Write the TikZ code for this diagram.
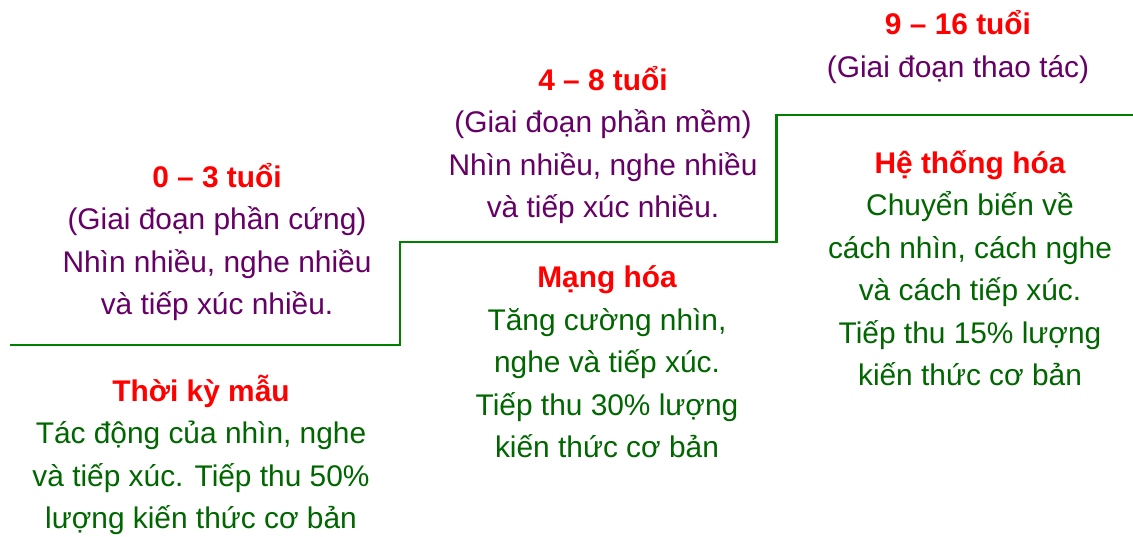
\documentclass[tikz,border=0pt]{standalone}
\usepackage{fontspec}
\setmainfont{Liberation Sans}
\definecolor{agered}{HTML}{FF0000}
\definecolor{stagepurple}{HTML}{660066}
\definecolor{descgreen}{HTML}{006600}
\definecolor{stairgreen}{HTML}{008000}
\begin{document}
\begin{tikzpicture}[x=0.02cm, y=-0.02cm,
	stage/.style = {align=center, inner sep=0pt, text=stagepurple, font=\fontsize{17}{24.2}\selectfont},
	desc/.style = {align=center, inner sep=0pt, text=descgreen, font=\fontsize{17}{24.2}\selectfont}]
	\useasboundingbox (0,0) rectangle (1133,537);
	% stair line
	\coordinate (s0) at (10,345);
	\coordinate (s1) at (400,345);
	\coordinate (s2) at (400,242);
	\coordinate (s3) at (776,242);
	\coordinate (s4) at (776,115);
	\coordinate (s5) at (1133,115);
	\draw[stairgreen, line width=1.7pt] (s0) -- (s1) -- (s2) -- (s3) -- (s4) -- (s5);
	% 0 - 3
	\node[stage] (1) at (217,242) {\textcolor{agered}{\bfseries 0 – 3 tuổi}\\(Giai đoạn phần cứng)\\Nhìn nhiều, nghe nhiều\\và tiếp xúc nhiều.};
	\node[desc] (1b) at (201,455) {\textcolor{agered}{\bfseries Thời kỳ mẫu}\\Tác động của nhìn, nghe\\và tiếp xúc. Tiếp thu 50\%\\lượng kiến thức cơ bản};
	% 4 - 8
	\node[stage] (2) at (603,145) {\textcolor{agered}{\bfseries 4 – 8 tuổi}\\(Giai đoạn phần mềm)\\Nhìn nhiều, nghe nhiều\\và tiếp xúc nhiều.};
	\node[desc] (2b) at (607,362) {\textcolor{agered}{\bfseries Mạng hóa}\\Tăng cường nhìn,\\nghe và tiếp xúc.\\Tiếp thu 30\% lượng\\kiến thức cơ bản};
	% 9 - 16
	\node[stage] (3) at (958,47) {\textcolor{agered}{\bfseries 9 – 16 tuổi}\\(Giai đoạn thao tác)};
	\node[desc] (3b) at (970,268) {\textcolor{agered}{\bfseries Hệ thống hóa}\\Chuyển biến về\\cách nhìn, cách nghe\\và cách tiếp xúc.\\Tiếp thu 15\% lượng\\kiến thức cơ bản};
\end{tikzpicture}
\end{document}
